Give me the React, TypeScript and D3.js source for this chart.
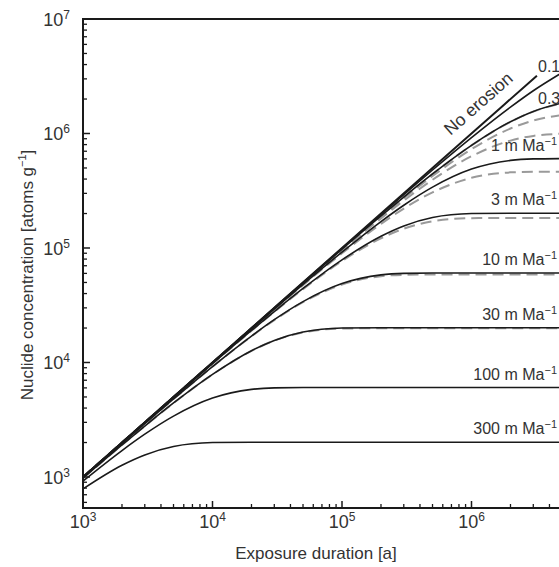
import React from 'react';
import * as d3 from 'd3';

// exposure times [a]
const times = [1e3, 2e3, 3e3, 5e3, 1e4, 2e4, 3e4, 5e4, 1e5, 2e5, 3e5, 5e5, 1e6, 2e6, 3e6, 5e6];
const noErosionTimes = [1e3, 1e4, 1e5, 1e6, 3.2e6];
const noErosion = [1000, 10000, 100000, 1000000, 3200000];

// stable nuclide (solid black)
const solid01 = [1000, 2000, 3000, 5000, 9999, 19997, 29993, 49979, 99180, 196700, 292700, 480000, 921000, 1700000, 2364000, 3400000];
const solid03 = [1000, 2000, 2999, 4994, 9975, 19900, 29780, 49380, 97570, 190400, 278700, 443000, 788000, 1268000, 1560000, 1845000];
const solid1 = [999, 1997, 2993, 4979, 9918, 19670, 29270, 48000, 92100, 170200, 236400, 340000, 488700, 582000, 599800, 604000];
const solid3 = [998, 1990, 2978, 4938, 9757, 19040, 27870, 44300, 78800, 126800, 156000, 184500, 199900, 201300, 201300, 201300];
const solid10 = [992, 1967, 2927, 4799, 9215, 17020, 23640, 34000, 48870, 58200, 59980, 60400, 60400, 60400, 60400, 60400];
const solid30 = [976, 1904, 2787, 4429, 7880, 12680, 15600, 18450, 19990, 20130, 20130, 20130, 20130, 20130, 20130, 20130];
const solid100 = [921, 1702, 2364, 3400, 4887, 5820, 5998, 6039, 6039, 6039, 6039, 6039, 6039, 6039, 6039, 6039];
const solid300 = [788, 1268, 1560, 1845, 1999, 2013, 2013, 2013, 2013, 2013, 2013, 2013, 2013, 2013, 2013, 2013];

// radioactive nuclide (grey dashed)
const dashed0 = [1000, 2000, 3000, 4999, 9975, 19900, 29780, 49380, 97540, 190300, 278600, 442000, 787000, 1264000, 1554000, 1836000];
const dashed01 = [1000, 2000, 2999, 4998, 9967, 19870, 29700, 49180, 96800, 187200, 271900, 425000, 730000, 1105000, 1298000, 1448000];
const dashed03 = [1000, 1999, 2999, 4988, 9950, 19800, 29560, 48770, 95200, 181300, 259400, 394000, 633000, 867000, 953000, 996000];
const dashed1 = [999, 1996, 2990, 4973, 9893, 19580, 29050, 47400, 89900, 162500, 220900, 306000, 410000, 457600, 463100, 463800];
const dashed3 = [997, 1989, 2976, 4932, 9733, 18940, 27680, 43750, 77000, 121600, 147400, 171000, 182100, 182900, 182900, 182900];
const dashed10 = [992, 1966, 2925, 4793, 9191, 16950, 23480, 33640, 47970, 56690, 58270, 58620, 58620, 58620, 58620, 58620];
const dashed30 = [975, 1902, 2782, 4418, 7849, 12620, 15530, 18290, 19790, 19930, 19930, 19930, 19930, 19930, 19930, 19930];

const solidSeries = [solid01, solid03, solid1, solid3, solid10, solid30, solid100, solid300];
const dashedSeries = [dashed0, dashed01, dashed03, dashed1, dashed3, dashed10, dashed30];

const rateLabels = ['0.1', '0.3', '1', '3', '10', '30', '100', '300'];
const xTickExponents = [3, 4, 5, 6];
const yTickExponents = [3, 4, 5, 6, 7];
const xTitle = 'Exposure duration [a]';
const yTitle = 'Nuclide concentration [atoms g';
const noErosionLabel = 'No erosion';

const W = 559;
const H = 567;
const FONT = "'Liberation Sans', Arial, Helvetica, sans-serif";

export default function App() {
  const left = 83, top = 19, bottom = 508;
  const x = d3.scaleLog().domain([1e3, 1e7]).range([left, left + 4 * 129.5]);
  const y = d3.scaleLog().domain([536, 1e7]).range([bottom, top]);

  const line = d3
    .line<[number, number]>()
    .x((d) => x(d[0]))
    .y((d) => y(d[1]))
    .curve(d3.curveMonotoneX);

  const toPts = (ts: number[], vs: number[]) => ts.map((t, i) => [t, vs[i]] as [number, number]);

  const xMinor: number[] = [];
  for (let e = 3; e < 7; e++) for (let m = 2; m <= 9; m++) xMinor.push(m * Math.pow(10, e));
  const yMinor: number[] = [];
  for (let e = 2; e < 7; e++) for (let m = 2; m <= 9; m++) {
    const v = m * Math.pow(10, e);
    if (v >= 536) yMinor.push(v);
  }

  const stroke = '#1a1a1a';
  const rightEdge = W;

  return (
    <div style={{ position: 'absolute', left: 0, top: 0 }}>
      <svg width={W} height={H} style={{ display: 'block', background: '#fff' }} fontFamily={FONT}>
        <defs>
          <clipPath id="plot">
            <rect x={left} y={top} width={W - left} height={bottom - top} />
          </clipPath>
        </defs>
        <rect x={0} y={0} width={W} height={H} fill="#fff" />
        <g clipPath="url(#plot)">
          {dashedSeries.map((s, i) => (
            <path
              key={'d' + i}
              d={line(toPts(times, s)) || ''}
              fill="none"
              stroke="#9a9a9a"
              strokeWidth={2}
              strokeDasharray="11,6"
            />
          ))}
          {solidSeries.map((s, i) => (
            <path key={'s' + i} d={line(toPts(times, s)) || ''} fill="none" stroke={stroke} strokeWidth={1.6} />
          ))}
          <path d={line(toPts(noErosionTimes, noErosion)) || ''} fill="none" stroke={stroke} strokeWidth={2} />
        </g>

        {/* axes frame */}
        <line x1={left} y1={top} x2={rightEdge} y2={top} stroke={stroke} strokeWidth={2} />
        <line x1={left} y1={top - 1} x2={left} y2={bottom + 1} stroke={stroke} strokeWidth={2} />
        <line x1={left} y1={bottom} x2={rightEdge} y2={bottom} stroke={stroke} strokeWidth={2} />

        {/* x ticks */}
        {xTickExponents.map((e) => (
          <line key={'xM' + e} x1={x(Math.pow(10, e))} x2={x(Math.pow(10, e))} y1={bottom} y2={bottom - 7} stroke={stroke} strokeWidth={1.5} />
        ))}
        {xMinor.map((v) => (
          <line key={'xm' + v} x1={x(v)} x2={x(v)} y1={bottom} y2={bottom - 4} stroke={stroke} strokeWidth={1.3} />
        ))}
        {/* y ticks */}
        {yTickExponents.map((e) => (
          <line key={'yM' + e} x1={left} x2={left + 7} y1={y(Math.pow(10, e))} y2={y(Math.pow(10, e))} stroke={stroke} strokeWidth={1.5} />
        ))}
        {yMinor.map((v) => (
          <line key={'ym' + v} x1={left} x2={left + 4} y1={y(v)} y2={y(v)} stroke={stroke} strokeWidth={1.3} />
        ))}

        {/* x tick labels */}
        {xTickExponents.map((e) => (
          <text key={'xl' + e} x={x(Math.pow(10, e))} y={bottom + 20} textAnchor="middle" fontSize={18} fill="#333">
            10<tspan dy={-7} fontSize={12}>{e}</tspan>
          </text>
        ))}
        {/* y tick labels */}
        {yTickExponents.map((e) => (
          <text key={'yl' + e} x={left - 13} y={y(Math.pow(10, e)) + 7} textAnchor="end" fontSize={18} fill="#333">
            10<tspan dy={-7} fontSize={12}>{e}</tspan>
          </text>
        ))}

        {/* axis titles */}
        <text x={316} y={559} textAnchor="middle" fontSize={17} fill="#333">{xTitle}</text>
        <text transform={`translate(33, 275) rotate(-90)`} textAnchor="middle" fontSize={17} fill="#333">
          {yTitle}
          <tspan dy={-7} fontSize={11}>−1</tspan>
          <tspan dy={7}>]</tspan>
        </text>

        {/* curve labels */}
        {rateLabels.map((r, i) => {
          const s = solidSeries[i];
          const last = s[s.length - 1];
          if (i < 2) {
            const yy = i === 0 ? y(3.3e6) - 2 : y(1.82e6);
            return (
              <text key={'cl' + i} x={538} y={yy} fontSize={16} fill="#333">
                {r}
              </text>
            );
          }
          return (
            <text key={'cl' + i} x={557} y={y(last) - 8} textAnchor="end" fontSize={16} fill="#333">
              {r} m Ma<tspan dy={-6} fontSize={11}>−1</tspan>
            </text>
          );
        })}
        <text
          transform={`translate(${x(1.05e6) + 8}, ${y(1.05e6) - 23}) rotate(-41.5)`}
          textAnchor="middle"
          fontSize={17.5}
          fill="#333"
        >
          {noErosionLabel}
        </text>
      </svg>
    </div>
  );
}
